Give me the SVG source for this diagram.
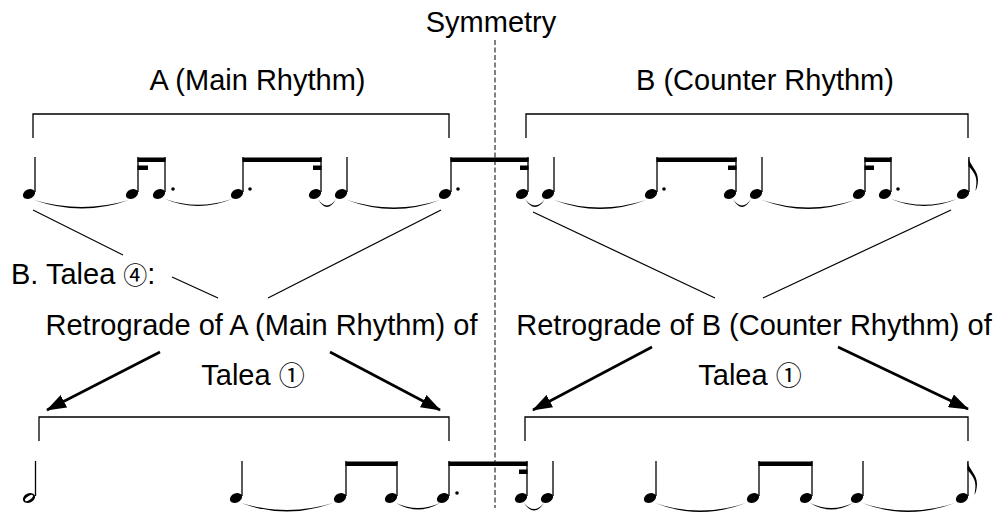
<svg xmlns="http://www.w3.org/2000/svg" width="1002" height="512" viewBox="0 0 1002 512">
<style>
.t{font-family:"Liberation Sans","Noto Sans CJK SC",Arial,sans-serif;font-size:29px;fill:#000}
.c4{font-size:24px}
.c1{font-size:26px}
.br{fill:none;stroke:#000;stroke-width:1.3}
.ln{stroke:#000;stroke-width:1.2;fill:none}
.ar{stroke:#000;stroke-width:2.6;fill:none}
.st{stroke:#000;stroke-width:1.3}
.bm{fill:#000}
.tie{fill:#000}
</style>
<defs>
<ellipse id="h" cx="0" cy="0" rx="6.4" ry="4.6" transform="rotate(-25)" fill="#000"/>
<g id="hh"><ellipse cx="0" cy="0" rx="6.4" ry="4.6" transform="rotate(-25)" fill="#000"/><ellipse cx="0" cy="0" rx="4.6" ry="1.9" transform="rotate(-35)" fill="#fff"/></g>
<marker id="ah" viewBox="0 0 20 14" refX="19" refY="7" markerWidth="20" markerHeight="14" markerUnits="userSpaceOnUse" orient="auto"><path d="M0,0 L20,7 L0,14 Z" fill="#000"/></marker>
</defs>

<line id="symmetry-axis" x1="495" y1="40" x2="495" y2="508" stroke="#000" stroke-width="1" stroke-dasharray="5,2.5"/>

<g id="labels">
<text class="t" x="491" y="32" text-anchor="middle">Symmetry</text>
<text class="t" x="257.5" y="90" text-anchor="middle">A (Main Rhythm)</text>
<text class="t" x="765" y="90" text-anchor="middle">B (Counter Rhythm)</text>
<text class="t" x="11" y="284">B. Talea <tspan class="c4">④</tspan>:</text>
<text class="t" x="261.5" y="335" text-anchor="middle">Retrograde of A (Main Rhythm) of</text>
<text class="t" x="754" y="335" text-anchor="middle">Retrograde of B (Counter Rhythm) of</text>
<text class="t" x="253" y="385" text-anchor="middle">Talea <tspan class="c1">①</tspan></text>
<text class="t" x="750" y="385" text-anchor="middle">Talea <tspan class="c1">①</tspan></text>
</g>

<g id="brackets">
<path class="br" d="M33,138 V114 H449 V138"/>
<path class="br" d="M526,138 V114 H968 V138"/>
<path class="br" d="M39,441 V417 H449 V441"/>
<path class="br" d="M525,441 V417 H968 V441"/>
</g>

<g id="connectors">
<line class="ln" x1="33" y1="210" x2="123" y2="255"/>
<line class="ln" x1="172" y1="277" x2="218" y2="298"/>
<line class="ln" x1="268" y1="298" x2="441" y2="210"/>
<line class="ln" x1="533" y1="212" x2="715" y2="298"/>
<line class="ln" x1="763" y1="298" x2="951" y2="210"/>
<line class="ar" x1="160" y1="352" x2="47" y2="410" marker-end="url(#ah)"/>
<line class="ar" x1="330" y1="352" x2="440" y2="410" marker-end="url(#ah)"/>
<line class="ar" x1="652" y1="347" x2="533" y2="410" marker-end="url(#ah)"/>
<line class="ar" x1="838" y1="347" x2="968" y2="409" marker-end="url(#ah)"/>
</g>

<g id="rhythm-top">
<g id="top-heads">
<use href="#h" x="29" y="194"/><use href="#h" x="132" y="194"/><use href="#h" x="159" y="194"/>
<use href="#h" x="237" y="194"/><use href="#h" x="315" y="194"/><use href="#h" x="341" y="194"/>
<use href="#h" x="445" y="194"/><use href="#h" x="522" y="194"/><use href="#h" x="548" y="194"/>
<use href="#h" x="651" y="194"/><use href="#h" x="730" y="194"/><use href="#h" x="756" y="194"/>
<use href="#h" x="859" y="194"/><use href="#h" x="885" y="194"/><use href="#h" x="963" y="194"/>
</g>
<g id="top-stems" class="st">
<line x1="35" y1="157" x2="35" y2="192"/><line x1="138" y1="157" x2="138" y2="192"/><line x1="165" y1="157" x2="165" y2="192"/>
<line x1="243" y1="157" x2="243" y2="192"/><line x1="321" y1="157" x2="321" y2="192"/><line x1="347" y1="157" x2="347" y2="192"/>
<line x1="451" y1="157" x2="451" y2="192"/><line x1="528" y1="157" x2="528" y2="192"/><line x1="554" y1="157" x2="554" y2="192"/>
<line x1="657" y1="157" x2="657" y2="192"/><line x1="736" y1="157" x2="736" y2="192"/><line x1="762" y1="157" x2="762" y2="192"/>
<line x1="865" y1="157" x2="865" y2="192"/><line x1="891" y1="157" x2="891" y2="192"/><line x1="969" y1="157" x2="969" y2="192"/>
</g>
<g id="top-beams" class="bm">
<rect x="137.5" y="157.5" width="28" height="4.5"/><rect x="137.5" y="165.5" width="10.5" height="4.5"/>
<rect x="242.5" y="157.5" width="79" height="4.5"/><rect x="313" y="165.5" width="8.5" height="4.5"/>
<rect x="450.5" y="157.5" width="78" height="4.5"/><rect x="520" y="165.5" width="8.5" height="4.5"/>
<rect x="656.5" y="157.5" width="80" height="4.5"/><rect x="728" y="165.5" width="8.5" height="4.5"/>
<rect x="864.5" y="157.5" width="27" height="4.5"/><rect x="864.5" y="165.5" width="9.5" height="4.5"/>
<path d="M968.4,157 C970,166 978,170 978,180 C978,185 976.5,189 975.5,191 C976,186 977,183 976,178 C974,171 970,168 968.4,166 Z"/>
</g>
<g id="top-dots" class="bm">
<circle cx="173" cy="189" r="1.8"/><circle cx="250" cy="189" r="1.8"/><circle cx="458" cy="189" r="1.8"/>
<circle cx="664" cy="189" r="1.8"/><circle cx="898" cy="189" r="1.8"/>
</g>
<g id="top-ties" class="tie">
<path d="M34,200 Q82,217 129,200 Q82,214 34,200 Z"/>
<path d="M165,199 Q198,213 232,199 Q198,210.5 165,199 Z"/>
<path d="M318,199 Q327,215 336,199 Q327,212 318,199 Z"/>
<path d="M347,200 Q394,218 440,200 Q394,215 347,200 Z"/>
<path d="M525,199 Q535,215 545,199 Q535,212 525,199 Z"/>
<path d="M554,200 Q600,218 646,200 Q600,215 554,200 Z"/>
<path d="M733,199 Q742,215 751,199 Q742,212 733,199 Z"/>
<path d="M762,200 Q808,218 855,200 Q808,215 762,200 Z"/>
<path d="M891,199 Q924,213 957,199 Q924,210.5 891,199 Z"/>
</g>
</g>

<g id="rhythm-bottom">
<g id="bottom-heads">
<use href="#hh" x="29" y="498"/>
<use href="#h" x="236" y="498"/><use href="#h" x="340" y="498"/><use href="#h" x="391" y="498"/>
<use href="#h" x="443" y="498"/><use href="#h" x="521" y="498"/><use href="#h" x="547" y="498"/>
<use href="#h" x="650" y="498"/><use href="#h" x="753" y="498"/><use href="#h" x="806" y="498"/>
<use href="#h" x="857" y="498"/><use href="#h" x="962" y="498"/>
</g>
<g id="bottom-stems" class="st">
<line x1="35.5" y1="461" x2="35.5" y2="496"/>
<line x1="242" y1="461" x2="242" y2="496"/><line x1="346" y1="461" x2="346" y2="496"/><line x1="397" y1="461" x2="397" y2="496"/>
<line x1="449" y1="461" x2="449" y2="496"/><line x1="527" y1="461" x2="527" y2="496"/><line x1="553" y1="461" x2="553" y2="496"/>
<line x1="656" y1="461" x2="656" y2="496"/><line x1="759" y1="461" x2="759" y2="496"/><line x1="812" y1="461" x2="812" y2="496"/>
<line x1="863" y1="461" x2="863" y2="496"/><line x1="968" y1="461" x2="968" y2="496"/>
</g>
<g id="bottom-beams" class="bm">
<rect x="345.5" y="461.5" width="52" height="4.5"/>
<rect x="448.5" y="461.5" width="79" height="4.5"/><rect x="519" y="469.5" width="8.5" height="4.5"/>
<rect x="758.5" y="461.5" width="54" height="4.5"/>
<path d="M967.4,461 C969,470 977,474 977,484 C977,489 975.5,493 974.5,495 C975,490 976,487 975,482 C973,475 969,472 967.4,470 Z"/>
</g>
<g id="bottom-dots" class="bm"><circle cx="457" cy="493" r="1.8"/></g>
<g id="bottom-ties" class="tie">
<path d="M241,503 Q287,520 333,503 Q287,517 241,503 Z"/>
<path d="M396,503 Q418,516 440,503 Q418,513 396,503 Z"/>
<path d="M524,503 Q534,518 544,503 Q534,515 524,503 Z"/>
<path d="M655,503 Q700,521 746,503 Q700,518 655,503 Z"/>
<path d="M810,503 Q831,516 853,503 Q831,513 810,503 Z"/>
<path d="M862,503 Q908,521 955,503 Q908,518 862,503 Z"/>
</g>
</g>
</svg>
